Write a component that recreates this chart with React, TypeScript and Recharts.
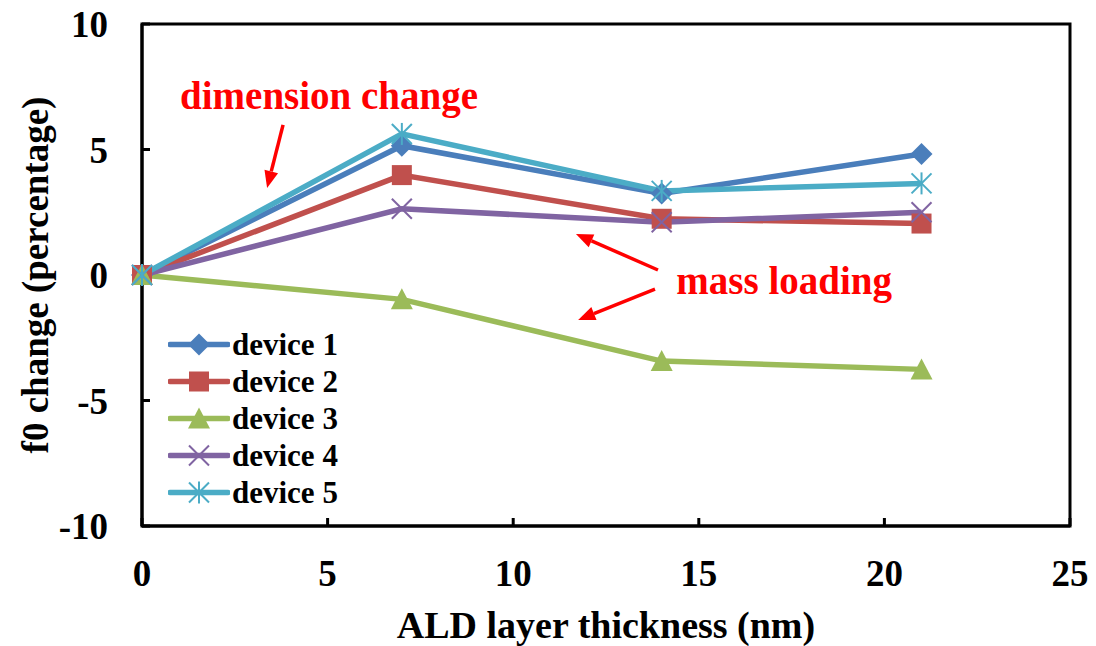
import React from 'react';
import {
  LineChart, Line, XAxis, YAxis, ReferenceArea, ReferenceLine, ReferenceDot, Legend,
} from 'recharts';

const thickness = [0, 7, 14, 21];
const device1 = [0, 5.15, 3.25, 4.82];
const device2 = [0, 3.98, 2.24, 2.05];
const device3 = [0, -0.97, -3.43, -3.76];
const device4 = [0, 2.64, 2.1, 2.5];
const device5 = [0, 5.62, 3.35, 3.65];

const xTicks = [0, 5, 10, 15, 20, 25];
const yTicks = [-10, -5, 0, 5, 10];

const seriesNames = ['device 1', 'device 2', 'device 3', 'device 4', 'device 5'];
const seriesValues = [device1, device2, device3, device4, device5];
const seriesColors = ['#4A7EBB', '#C0504D', '#9BBB59', '#8064A2', '#4BACC6'];
const seriesMarkers = ['diamond', 'square', 'triangle', 'cross', 'star'];

// annotations (data coordinates)
const annotationTexts = [
  { text: 'dimension change', x: 5.04, y: 7.17 },
  { text: 'mass loading', x: 17.3, y: -0.2 },
];
const annotationArrows = [
  { from: [3.8, 5.98], to: [3.37, 3.47] },
  { from: [13.9, 0.2], to: [11.69, 1.63] },
  { from: [13.82, -0.56], to: [11.75, -1.79] },
];

const data = thickness.map((t, i) => {
  const row: Record<string, number> = { t };
  seriesNames.forEach((n, k) => { row[n] = seriesValues[k][i]; });
  return row;
});

const FONT = '"Liberation Serif", "Times New Roman", serif';

function Marker({ kind, cx, cy, color }: { kind: string; cx: number; cy: number; color: string }) {
  const s = 10;
  switch (kind) {
    case 'diamond':
      return <polygon points={`${cx},${cy - s - 1} ${cx + s + 1},${cy} ${cx},${cy + s + 1} ${cx - s - 1},${cy}`} fill={color} />;
    case 'square':
      return <rect x={cx - s} y={cy - s} width={2 * s} height={2 * s} fill={color} />;
    case 'triangle':
      return <polygon points={`${cx},${cy - s - 1} ${cx + s + 1},${cy + s} ${cx - s - 1},${cy + s}`} fill={color} />;
    case 'cross':
      return (
        <g stroke={color} strokeWidth={2}>
          <line x1={cx - s} y1={cy - s} x2={cx + s} y2={cy + s} />
          <line x1={cx - s} y1={cy + s} x2={cx + s} y2={cy - s} />
        </g>
      );
    case 'star':
    default:
      return (
        <g stroke={color} strokeWidth={2}>
          <line x1={cx - s} y1={cy - s} x2={cx + s} y2={cy + s} />
          <line x1={cx - s} y1={cy + s} x2={cx + s} y2={cy - s} />
          <line x1={cx} y1={cy - s - 1} x2={cx} y2={cy + s + 1} />
        </g>
      );
  }
}

const renderLegend = () => (
  <div style={{ fontFamily: FONT, fontWeight: 'bold', fontSize: 31, color: '#000' }}>
    {seriesNames.map((n, k) => (
      <div key={n} style={{ display: 'flex', alignItems: 'center', height: 37 }}>
        <svg width={62} height={37} style={{ display: 'block' }}>
          <line x1={2} y1={18.5} x2={60} y2={18.5} stroke={seriesColors[k]} strokeWidth={5.5} strokeLinecap="round" />
          <Marker kind={seriesMarkers[k]} cx={31} cy={18.5} color={seriesColors[k]} />
        </svg>
        <span style={{ marginLeft: 2, lineHeight: '37px', whiteSpace: 'nowrap' }}>{n}</span>
      </div>
    ))}
  </div>
);

const ArrowShape = (props: any) => {
  const { x1, y1, x2, y2 } = props;
  const dx = x2 - x1;
  const dy = y2 - y1;
  const len = Math.sqrt(dx * dx + dy * dy) || 1;
  const ux = dx / len;
  const uy = dy / len;
  const hl = 17;
  const hw = 7;
  const bx = x2 - ux * hl;
  const by = y2 - uy * hl;
  return (
    <g>
      <line x1={x1} y1={y1} x2={bx} y2={by} stroke="#FF0000" strokeWidth={3.5} />
      <polygon
        points={`${x2},${y2} ${bx - uy * hw},${by + ux * hw} ${bx + uy * hw},${by - ux * hw}`}
        fill="#FF0000"
      />
    </g>
  );
};

export default function App() {
  return (
    <div style={{ position: 'absolute', left: 0, top: 0, width: 1096, height: 646, background: '#fff' }}>
      <LineChart
        width={1096}
        height={646}
        data={data}
        margin={{ top: 24, right: 26, bottom: 0, left: 0 }}
        style={{ fontFamily: FONT }}
      >
        <XAxis
          dataKey="t"
          type="number"
          domain={[0, 25]}
          ticks={xTicks}
          height={120}
          axisLine={{ stroke: '#000', strokeWidth: 3 }}
          tickLine={{ stroke: '#000', strokeWidth: 3 }}
          tickSize={-8}
          tickMargin={42}
          tick={{ fill: '#000', fontSize: 37, fontWeight: 'bold', fontFamily: FONT }}
          label={{
            value: 'ALD layer thickness (nm)',
            position: 'insideBottom',
            offset: 8,
            style: { fill: '#000', fontSize: 38, fontWeight: 'bold', fontFamily: FONT },
          }}
        />
        <YAxis
          type="number"
          domain={[-10, 10]}
          ticks={yTicks}
          width={142}
          axisLine={{ stroke: '#000', strokeWidth: 3 }}
          tickLine={{ stroke: '#000', strokeWidth: 3 }}
          tickSize={-8}
          tickMargin={42}
          tick={{ fill: '#000', fontSize: 37, fontWeight: 'bold', fontFamily: FONT }}
          label={{
            value: 'f0 change (percentage)',
            angle: -90,
            position: 'insideLeft',
            offset: 35,
            style: { textAnchor: 'middle', fill: '#000', fontSize: 37, fontWeight: 'bold', fontFamily: FONT },
          }}
        />
        <ReferenceArea x1={0} x2={25} y1={-10} y2={10} fill="none" stroke="#000" strokeWidth={3} ifOverflow="visible" />
        {annotationArrows.map((a, i) => (
          <ReferenceLine
            key={`arr${i}`}
            segment={[{ x: a.from[0], y: a.from[1] }, { x: a.to[0], y: a.to[1] }]}
            shape={ArrowShape}
            ifOverflow="visible"
          />
        ))}
        {annotationTexts.map((a, i) => (
          <ReferenceDot
            key={`txt${i}`}
            x={a.x}
            y={a.y}
            r={1}
            fill="none"
            stroke="none"
            ifOverflow="visible"
            label={{
              value: a.text,
              position: 'center',
              fill: '#FF0000',
              fontSize: 39,
              fontWeight: 'bold',
              fontFamily: FONT,
            }}
          />
        ))}
        {seriesNames.map((n, k) => (
          <Line
            key={n}
            dataKey={n}
            stroke={seriesColors[k]}
            strokeWidth={5.5}
            isAnimationActive={false}
            dot={(p: any) => <Marker key={`${n}-${p.index}`} kind={seriesMarkers[k]} cx={p.cx} cy={p.cy} color={seriesColors[k]} />}
            activeDot={false}
          />
        ))}
        <Legend
          layout="vertical"
          verticalAlign="middle"
          align="center"
          content={renderLegend}
          wrapperStyle={{ left: 168, top: 326, width: 220 }}
        />
      </LineChart>
    </div>
  );
}
